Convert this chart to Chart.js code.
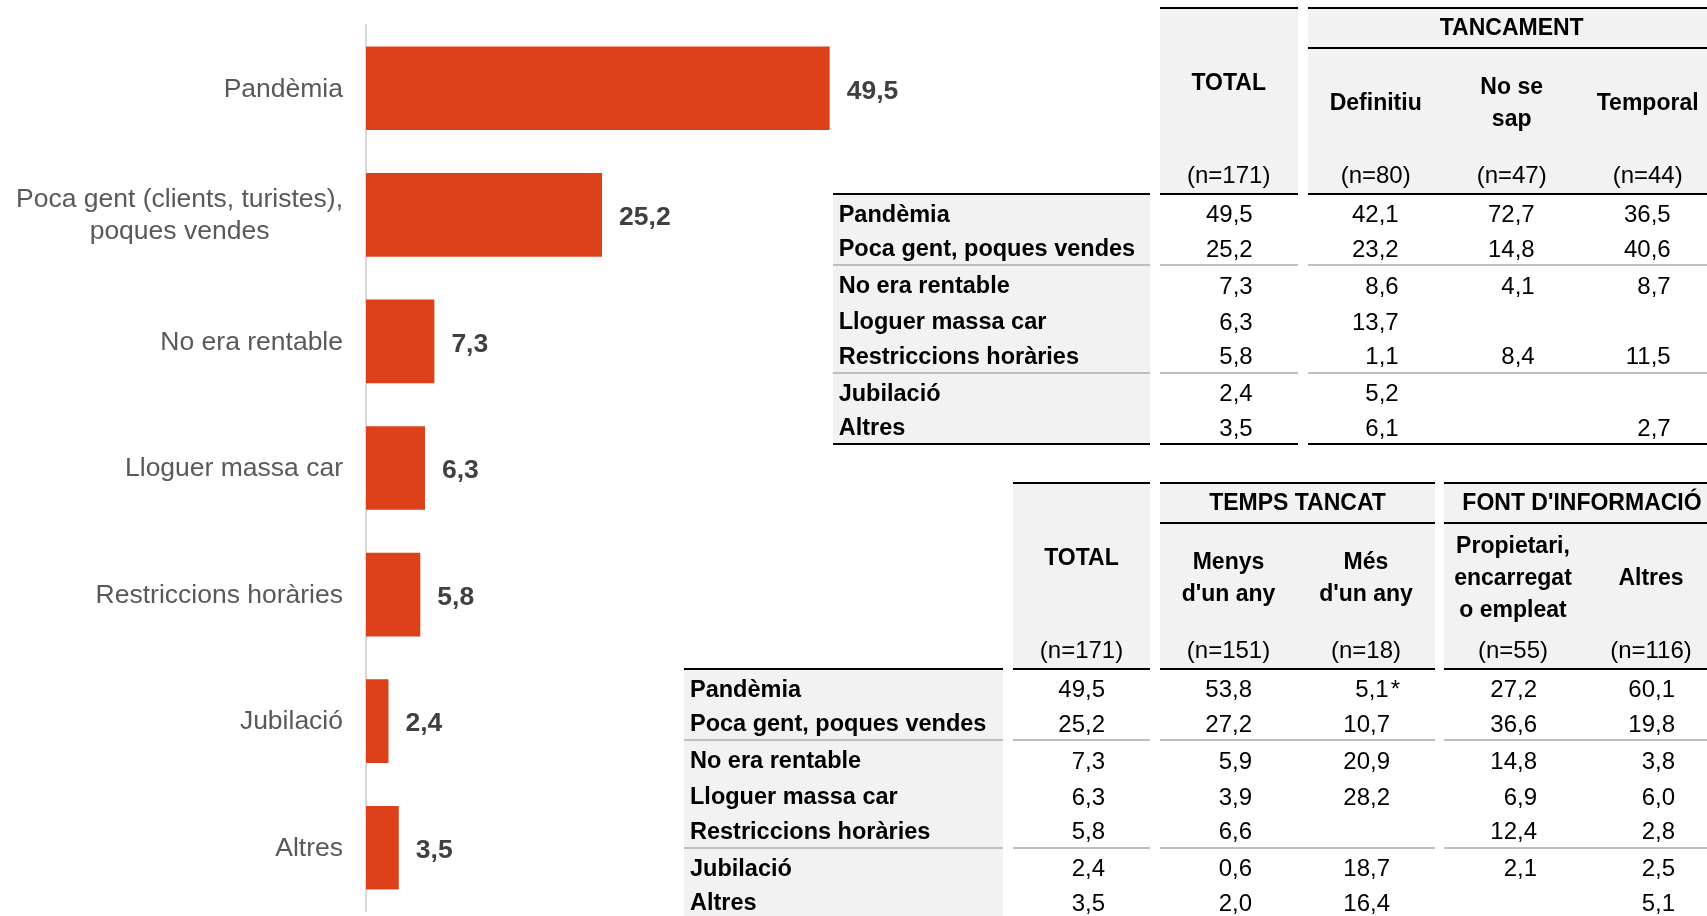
<!DOCTYPE html>
<html lang="ca">
<head>
<meta charset="utf-8">
<title>Motius del tancament</title>
<script src="https://cdn.jsdelivr.net/npm/chart.js@4.4.1/dist/chart.umd.min.js"></script>
<style>
  html, body { margin: 0; padding: 0; background: #fff; }
  body { width: 1707px; height: 916px; overflow: hidden; position: relative;
         font-family: "Liberation Sans", Arial, sans-serif; }
  #chart { position: absolute; left: 0; top: 0; }
  .taula { position: absolute; display: grid; z-index: 2; color: #000; }
  .taula > div { box-sizing: border-box; display: flex; align-items: center; white-space: nowrap; }
  .hd { background: #f2f2f2; font-weight: bold; font-size: 23px; justify-content: center; text-align: center;
        line-height: 32px; padding-bottom: 3px; }
  .top { border-top: 2px solid #000; }
  .grp { border-bottom: 2px solid #000; }
  .hn { background: #f2f2f2; font-size: 24px; justify-content: center; }
  .thick { border-bottom: 2px solid #000; }
  .lab { background: #f2f2f2; font-weight: bold; font-size: 23.5px; padding-left: 6px; padding-top: 3px; }
  .val { font-size: 24px; justify-content: flex-end; padding-right: 45px; padding-top: 3px; }
  .sep { border-bottom: 2px solid #bfbfbf; }
  .last { border-bottom: 2px solid #000; }
  .ast { margin-right: -10px; padding-left: 2px; }
</style>
</head>
<body>
<canvas id="chart" width="960" height="916"></canvas>
<div id="taula1" class="taula"></div>
<div id="taula2" class="taula"></div>

<script>
// ---------- dades del gràfic ----------
const rowLabels = ["Pandèmia", "Poca gent, poques vendes", "No era rentable", "Lloguer massa car",
                   "Restriccions horàries", "Jubilació", "Altres"];
const barLabels = ["Pandèmia", ["Poca gent (clients, turistes),", "poques vendes"], "No era rentable",
                   "Lloguer massa car", "Restriccions horàries", "Jubilació", "Altres"];
const barValues = [49.5, 25.2, 7.3, 6.3, 5.8, 2.4, 3.5];

// ---------- taula 1: tancament ----------
const t1Group = "TANCAMENT";
const t1Heads = [["Definitiu"], ["No se", "sap"], ["Temporal"]];
const t1N = [171, 80, 47, 44];
const t1Definitiu = [42.1, 23.2, 8.6, 13.7, 1.1, 5.2, 6.1];
const t1NoSeSap = [72.7, 14.8, 4.1, null, 8.4, null, null];
const t1Temporal = [36.5, 40.6, 8.7, null, 11.5, null, 2.7];

// ---------- taula 2: temps tancat i font ----------
const t2GroupA = "TEMPS TANCAT";
const t2GroupB = "FONT D'INFORMACIÓ";
const t2HeadsA = [["Menys", "d'un any"], ["Més", "d'un any"]];
const t2HeadsB = [["Propietari,", "encarregat", "o empleat"], ["Altres"]];
const t2N = [171, 151, 18, 55, 116];
const t2Menys = [53.8, 27.2, 5.9, 3.9, 6.6, 0.6, 2.0];
const t2Mes = [5.1, 10.7, 20.9, 28.2, null, 18.7, 16.4];
const t2MesMarks = ["*", "", "", "", "", "", ""];
const t2Propietari = [27.2, 36.6, 14.8, 6.9, 12.4, 2.1, null];
const t2Altres = [60.1, 19.8, 3.8, 6.0, 2.8, 2.5, 5.1];

const fmt = v => v.toFixed(1).replace(".", ",");

// ---------- gràfic de barres ----------
const etiquetes = {
  id: "etiquetes",
  afterDatasetsDraw(chart) {
    const { ctx } = chart;
    const y = chart.scales.y;
    const meta = chart.getDatasetMeta(0);
    ctx.save();
    ctx.font = 'bold 26.5px "Liberation Sans", Arial, sans-serif';
    ctx.fillStyle = "#404040";
    ctx.textAlign = "left";
    ctx.textBaseline = "middle";
    meta.data.forEach((bar, i) => {
      ctx.fillText(fmt(barValues[i]), bar.x + 17, bar.y + 3);
    });

    // noms de categoria: bloc alineat a la dreta, línies centrades
    ctx.font = '26.5px "Liberation Sans", Arial, sans-serif';
    ctx.fillStyle = "#595959";
    ctx.textAlign = "center";
    const right = chart.chartArea.left - 23;
    barLabels.forEach((lab, i) => {
      const lines = Array.isArray(lab) ? lab : [lab];
      const w = Math.max(...lines.map(l => ctx.measureText(l).width));
      const cy = y.getPixelForValue(i) + 1;
      lines.forEach((l, k) => {
        ctx.fillText(l, right - w / 2, cy + (k - (lines.length - 1) / 2) * 31.7);
      });
    });
    ctx.restore();
  }
};

new Chart(document.getElementById("chart"), {
  type: "bar",
  data: {
    labels: barLabels,
    datasets: [{
      data: barValues,
      backgroundColor: "#DD4119",
      barPercentage: 0.661,
      categoryPercentage: 1
    }]
  },
  options: {
    indexAxis: "y",
    responsive: false,
    animation: false,
    layout: { padding: { left: 366, right: 32, top: 25, bottom: 5 } },
    plugins: { legend: { display: false }, tooltip: { enabled: false } },
    scales: {
      x: { display: false, min: 0, max: 60 },
      y: {
        grid: { display: false, drawTicks: false },
        ticks: { display: false },
        border: { display: true, color: "#d9d9d9", width: 2 }
      }
    }
  },
  plugins: [etiquetes]
});

// ---------- taules ----------
function cell(r, c, cls, html, rs = 1, cs = 1) {
  return `<div class="${cls}" style="grid-row:${r} / span ${rs};grid-column:${c} / span ${cs}"><span>${html}</span></div>`;
}

function bodyRows(cols, colIdx) {
  let h = "";
  rowLabels.forEach((lab, i) => {
    const extra = (i === 1 || i === 4) ? " sep" : (i === 6 ? " last" : "");
    h += cell(4 + i, 1, "lab" + extra, lab);
    cols.forEach((col, j) => {
      const v = col.values[i];
      let txt = v == null ? "" : fmt(v);
      if (col.marks && col.marks[i]) txt += `<span class="ast">${col.marks[i]}</span>`;
      h += cell(4 + i, colIdx[j], "val" + extra, txt);
    });
  });
  return h;
}

// taula 1
(function () {
  const el = document.getElementById("taula1");
  el.style.left = "832.7px";
  el.style.top = "7.3px";
  el.style.gridTemplateColumns = "317px 10px 138px 10px 136px 136px 136px";
  el.style.gridTemplateRows = "41.5px 108.8px 37.2px repeat(7, 35.8px)";
  let h = "";
  h += cell(1, 3, "hd top", "TOTAL", 2);
  h += cell(1, 5, "hd top grp", t1Group, 1, 3);
  t1Heads.forEach((lines, j) => { h += cell(2, 5 + j, "hd", lines.join("<br>")); });
  h += cell(3, 1, "thick", "");
  [3, 5, 6, 7].forEach((c, j) => { h += cell(3, c, "hn thick", `(n=${t1N[j]})`); });
  h += bodyRows([
    { values: barValues }, { values: t1Definitiu }, { values: t1NoSeSap }, { values: t1Temporal }
  ], [3, 5, 6, 7]);
  el.innerHTML = h;
})();

// taula 2
(function () {
  const el = document.getElementById("taula2");
  el.style.left = "684px";
  el.style.top = "482.3px";
  el.style.gridTemplateColumns = "319px 10px 137px 10px 137px 138px 9px 138px 138px";
  el.style.gridTemplateRows = "41.5px 108.8px 37.2px repeat(7, 35.8px)";
  let h = "";
  h += cell(1, 3, "hd top", "TOTAL", 2);
  h += cell(1, 5, "hd top grp", t2GroupA, 1, 2);
  h += cell(1, 8, "hd top grp", t2GroupB, 1, 2);
  t2HeadsA.forEach((lines, j) => { h += cell(2, 5 + j, "hd", lines.join("<br>")); });
  t2HeadsB.forEach((lines, j) => { h += cell(2, 8 + j, "hd", lines.join("<br>")); });
  h += cell(3, 1, "thick", "");
  [3, 5, 6, 8, 9].forEach((c, j) => { h += cell(3, c, "hn thick", `(n=${t2N[j]})`); });
  h += bodyRows([
    { values: barValues }, { values: t2Menys }, { values: t2Mes, marks: t2MesMarks },
    { values: t2Propietari }, { values: t2Altres }
  ], [3, 5, 6, 8, 9]);
  el.innerHTML = h;
})();
</script>
</body>
</html>
